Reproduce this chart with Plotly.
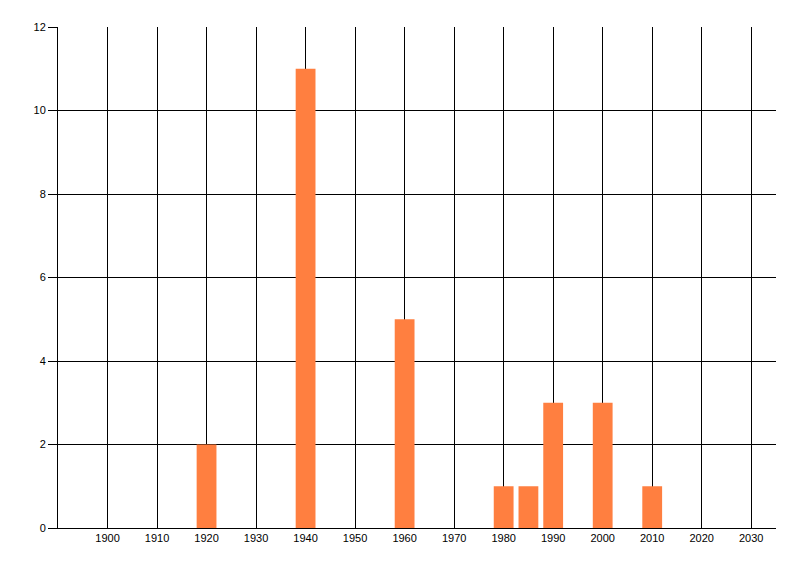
import plotly.graph_objects as go

years = [1920, 1940, 1960, 1980, 1985, 1990, 2000, 2010]
counts = [2, 11, 5, 1, 1, 3, 3, 1]
x_ticks = list(range(1900, 2031, 10))
y_ticks = [0, 2, 4, 6, 8, 10, 12]

fig = go.Figure(
    go.Bar(
        x=years,
        y=counts,
        width=4,
        marker=dict(color="#FF7F40", line=dict(width=0)),
    )
)

# page body has an 8px margin, so size the figure to fit inside it
fig.update_layout(
    width=784,
    height=560,
    margin=dict(l=50, r=16, t=19, b=40),
    paper_bgcolor="white",
    plot_bgcolor="white",
    font=dict(family="Liberation Sans, Arial, sans-serif", size=11, color="black"),
    showlegend=False,
    xaxis=dict(
        range=[1890, 2035],
        tickvals=x_ticks,
        showgrid=True,
        gridcolor="black",
        gridwidth=1,
        zeroline=False,
        showline=True,
        linecolor="black",
        linewidth=1,
        ticks="",
        automargin=False,
    ),
    yaxis=dict(
        range=[0, 12],
        tickvals=y_ticks,
        showgrid=True,
        gridcolor="black",
        gridwidth=1,
        zeroline=False,
        showline=True,
        linecolor="black",
        linewidth=1,
        ticks="outside",
        ticklen=9,
        tickcolor="black",
        automargin=False,
    ),
)

fig.write_html("out.html")
